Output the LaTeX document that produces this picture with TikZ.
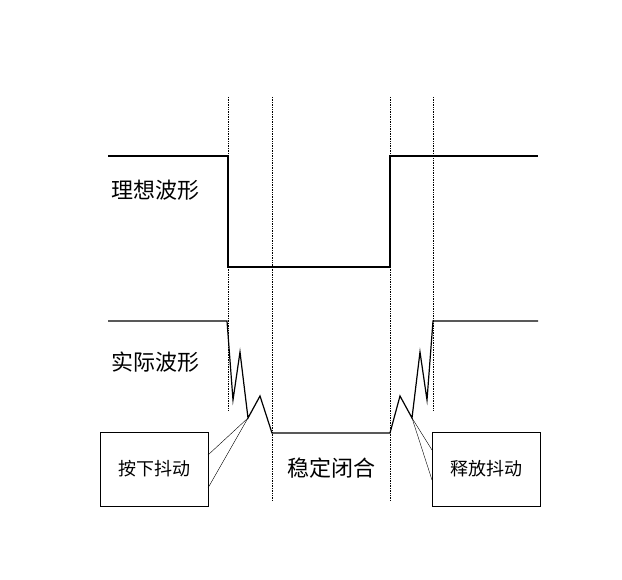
\documentclass[tikz,border=0pt]{standalone}
\usepackage{fontspec}
\setmainfont{Noto Sans CJK SC}
\usetikzlibrary{positioning}
\begin{document}
\begin{tikzpicture}[x=1pt,y=-1pt,
        wave/.style={line width=1.2pt},
        guide/.style={densely dotted,line width=0.7pt},
        callout/.style={line width=0.4pt},
        label_text/.style={font=\fontsize{22}{24}\selectfont,inner sep=0pt},
        box_text/.style={draw,line width=0.5pt,font=\fontsize{18}{20}\selectfont,minimum width=108pt,minimum height=74pt}
    ]
    \useasboundingbox (0,0) rectangle (622,580);

    % Dashed guides
    \foreach \x/\y in {228/410,272/500,390/500,433/410}
        \draw[guide] (\x,97) -- (\x,\y);

    % Ideal waveform
    \draw[wave] (108,156) -- (228,156) -- (228,267) -- (390,267) -- (390,156) -- (538,156);

    % Actual waveform with bounces
    \coordinate (pressTip) at (248,418);
    \coordinate (releaseTip) at (412,418);
    \draw[wave] (108,321) -- (227,321) -- (233,400) -- (240,352) -- (pressTip) -- (260,396) -- (272,433)
        -- (390,433) -- (400,396) -- (releaseTip) -- (420,352) -- (427,400) -- (433,321) -- (538,321);

    % Labels
    \node[label_text] (ideal) at (155,190) {理想波形};
    \node[label_text] (actual) at (155,362) {实际波形};
    \node[label_text] (stable) at (331,468) {稳定闭合};

    % Callout boxes
    \node[box_text] (press) at (154,469) {按下抖动};
    \node[box_text] (release) at (486,469) {释放抖动};
    \draw[callout] (pressTip) -- (208,455);
    \draw[callout] (pressTip) -- (208,488);
    \draw[callout] (releaseTip) -- (432,450);
    \draw[callout] (releaseTip) -- (432,480);
\end{tikzpicture}
\end{document}
